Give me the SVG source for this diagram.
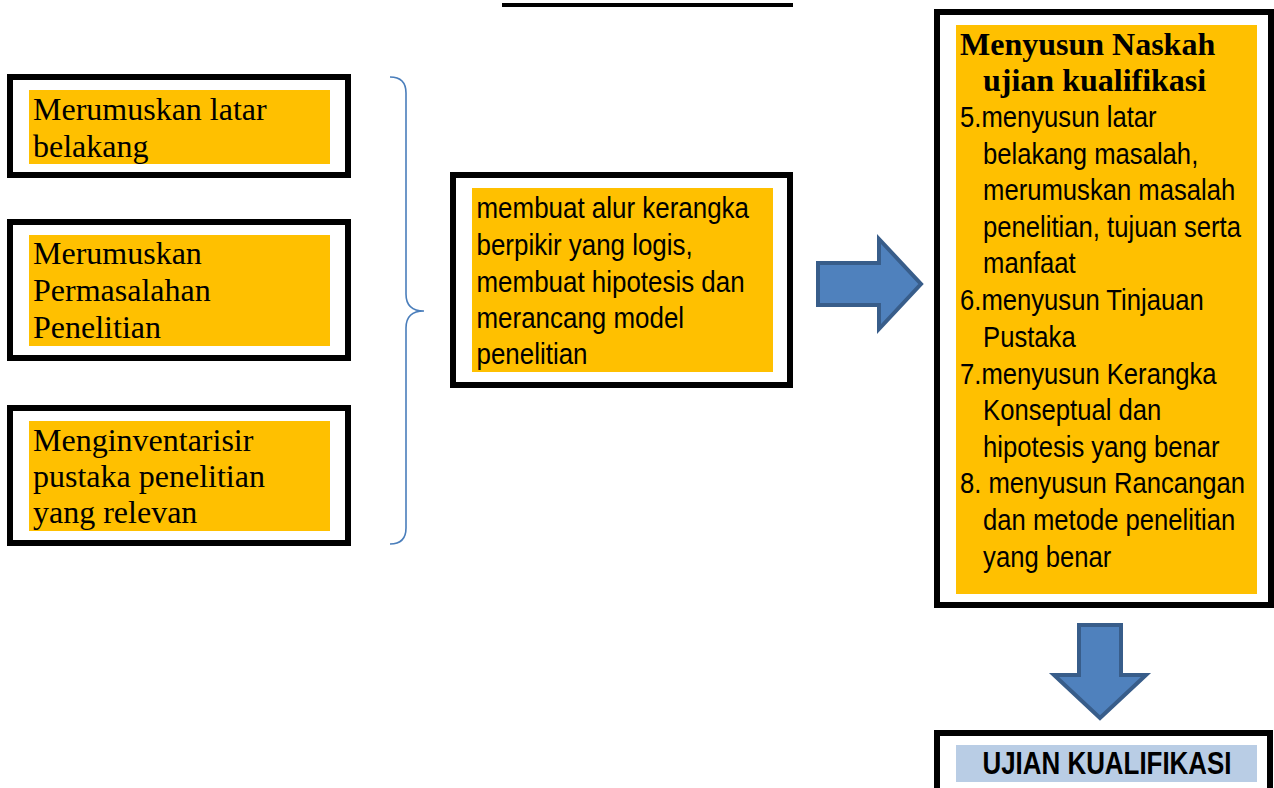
<svg xmlns="http://www.w3.org/2000/svg" width="1274" height="788" viewBox="0 0 1274 788">
<style>
.frame{fill:#fff;stroke:#000;stroke-width:6}
.hl{fill:#FFC000}
.serif{font-family:"Liberation Serif","Times New Roman",serif;font-size:32px;fill:#000}
.sans{font-family:"Liberation Sans",Arial,sans-serif;font-size:30px;fill:#000}
.bold{font-weight:bold}
.arrow{fill:#4F81BD;stroke:#385D8A;stroke-width:4;stroke-linejoin:miter}
.brace{fill:none;stroke:#4A7EBB;stroke-width:1.6}
</style>
<rect width="1274" height="788" fill="#fff"/>
<rect x="502" y="3" width="291" height="4" fill="#000"/>

<g id="node-latar">
<rect class="frame" x="10" y="77" width="338" height="98"/>
<rect class="hl" x="29" y="90" width="301" height="74"/>
<text class="serif"><tspan x="33" y="120">Merumuskan latar</tspan><tspan x="33" y="157">belakang</tspan></text>
</g>

<g id="node-permasalahan">
<rect class="frame" x="10" y="222" width="338" height="136"/>
<rect class="hl" x="29" y="235" width="301" height="111"/>
<text class="serif"><tspan x="33" y="264">Merumuskan</tspan><tspan x="33" y="301">Permasalahan</tspan><tspan x="33" y="338">Penelitian</tspan></text>
</g>

<g id="node-pustaka">
<rect class="frame" x="10" y="408" width="338" height="135"/>
<rect class="hl" x="29" y="421" width="301" height="110"/>
<text class="serif"><tspan x="33" y="451">Menginventarisir</tspan><tspan x="33" y="487">pustaka penelitian</tspan><tspan x="33" y="523">yang relevan</tspan></text>
</g>

<g id="node-kerangka">
<rect class="frame" x="453" y="175" width="337" height="210"/>
<rect class="hl" x="472" y="188" width="301" height="184"/>
<text class="sans" transform="translate(476.5,0) scale(0.865,1)"><tspan x="0" y="218">membuat alur kerangka</tspan><tspan x="0" y="255">berpikir yang logis,</tspan><tspan x="0" y="292">membuat hipotesis dan</tspan><tspan x="0" y="328">merancang model</tspan><tspan x="0" y="364.5">penelitian</tspan></text>
</g>

<g id="node-naskah">
<rect class="frame" x="937" y="12" width="334" height="593"/>
<rect class="hl" x="956" y="25" width="301" height="569"/>
<text class="serif bold"><tspan x="960" y="55">Menyusun Naskah</tspan><tspan x="983" y="91">ujian kualifikasi</tspan></text>
<text class="sans" transform="translate(960,0) scale(0.855,1)">
<tspan x="0" y="127">5.menyusun latar</tspan>
<tspan x="27" y="163.6">belakang masalah,</tspan>
<tspan x="27" y="200.2">merumuskan masalah</tspan>
<tspan x="27" y="236.8">penelitian, tujuan serta</tspan>
<tspan x="27" y="273.4">manfaat</tspan>
<tspan x="0" y="310.5">6.menyusun Tinjauan</tspan>
<tspan x="27" y="347.1">Pustaka</tspan>
<tspan x="0" y="383.7">7.menyusun Kerangka</tspan>
<tspan x="27" y="420.3">Konseptual dan</tspan>
<tspan x="27" y="456.9">hipotesis yang benar</tspan>
<tspan x="0" y="493.5">8. menyusun Rancangan</tspan>
<tspan x="27" y="530.1">dan metode penelitian</tspan>
<tspan x="27" y="566.7">yang benar</tspan>
</text>
</g>

<g id="node-ujian">
<rect class="frame" x="937" y="733" width="333" height="70"/>
<rect x="956" y="745" width="301" height="37" fill="#B9CDE5"/>
<text class="sans bold" text-anchor="middle" transform="translate(1107,0) scale(0.81,1)" style="font-size:32px"><tspan x="0" y="774">UJIAN KUALIFIKASI</tspan></text>
</g>

<g id="connectors">
<path class="brace" d="M390,77 Q406,77 406,93 L406,294 Q406,311 424,311 Q406,311 406,328 L406,528 Q406,544 390,544"/>
<polygon class="arrow" points="818,263 879,263 879,239 921,284 879,329 879,305 818,305"/>
<polygon class="arrow" points="1079,625 1121,625 1121,675 1146,675 1100,718 1054,675 1079,675"/>
</g>
</svg>
